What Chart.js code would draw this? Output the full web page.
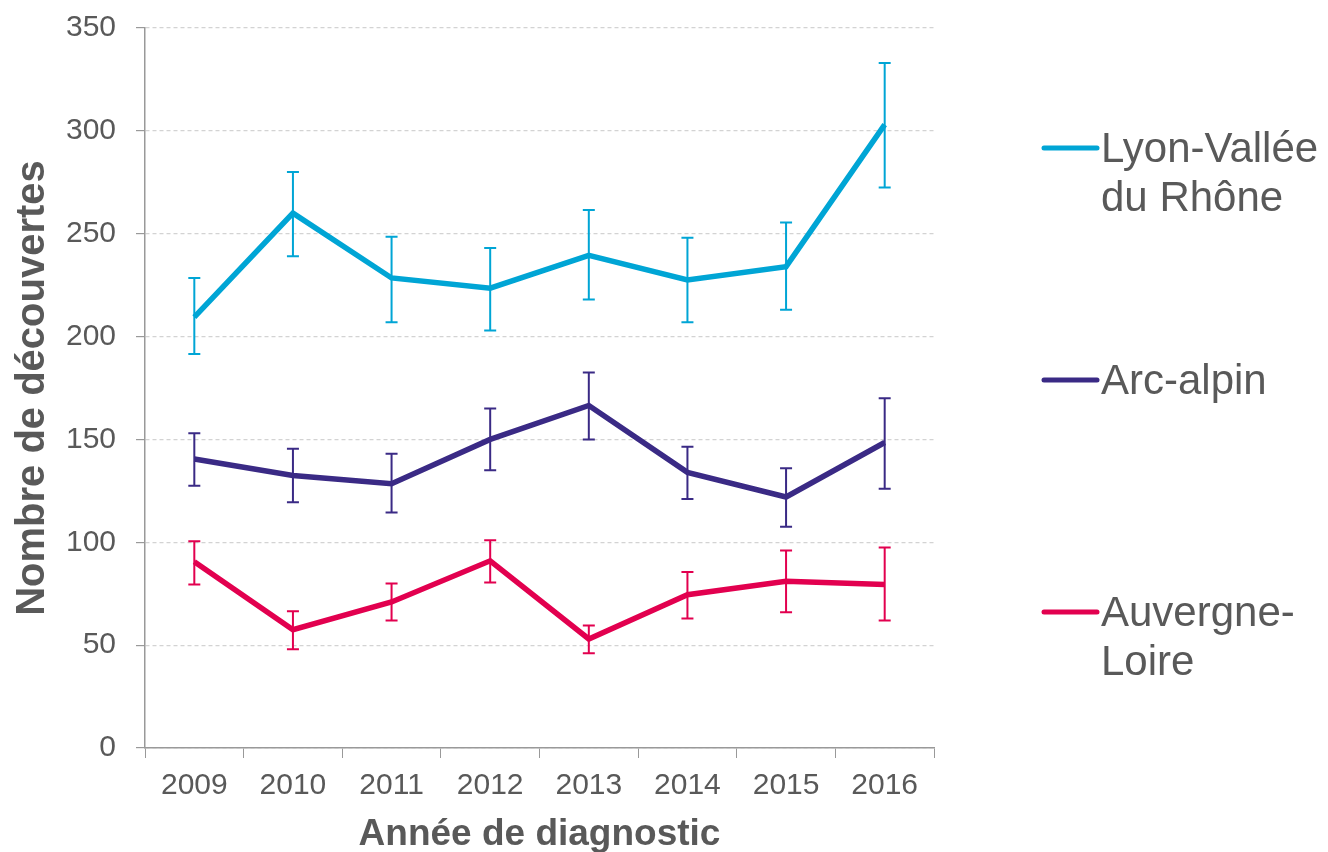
<!DOCTYPE html>
<html>
<head>
<meta charset="utf-8">
<script src="https://cdn.jsdelivr.net/npm/chart.js@4"></script>
<style>
  html, body { margin: 0; padding: 0; background: #fff; }
  #wrap { width: 1328px; height: 852px; }
</style>
</head>
<body>
<div id="wrap"><canvas id="chart"></canvas></div>
<script>
const years = ['2009', '2010', '2011', '2012', '2013', '2014', '2015', '2016'];

const lyonValues = [209.5, 260, 228.5, 223.5, 239.5, 227.5, 234, 303];
const lyonLow    = [191.5, 239, 207, 203, 218, 207, 213, 272.5];
const lyonHigh   = [228.5, 280, 248.5, 243, 261.5, 248, 255.5, 333];

const arcValues = [140.5, 132.5, 128.5, 150, 166.5, 134, 122, 148.5];
const arcLow    = [127.5, 119.5, 114.5, 135, 150, 121, 107.5, 126];
const arcHigh   = [153, 145.5, 143, 165, 182.5, 146.5, 136, 170];

const auvValues = [90.5, 57.5, 71, 91, 53, 74.5, 81, 79.5];
const auvLow    = [79.5, 48, 62, 80.5, 46, 63, 66, 62];
const auvHigh   = [100.5, 66.5, 80, 101, 59.5, 85.5, 96, 97.5];

const legendLabels = [['Lyon-Vallée', 'du Rhône'], ['Arc-alpin'], ['Auvergne-', 'Loire']];

const textGrey = '#595959';
const font = '"Liberation Sans", Arial, sans-serif';

// draws the vertical error bars with caps from the low/high arrays
const errorBars = {
    id: 'errorBars',
    afterDatasetsDraw(chart) {
        const ctx = chart.ctx;
        const y = chart.scales.y;
        chart.data.datasets.forEach((ds, i) => {
            const meta = chart.getDatasetMeta(i);
            ctx.save();
            ctx.strokeStyle = ds.borderColor;
            ctx.lineWidth = 2;
            meta.data.forEach((pt, j) => {
                const top = y.getPixelForValue(ds.errHigh[j]);
                const bot = y.getPixelForValue(ds.errLow[j]);
                ctx.beginPath();
                ctx.moveTo(pt.x, top);
                ctx.lineTo(pt.x, bot);
                ctx.moveTo(pt.x - 6, top);
                ctx.lineTo(pt.x + 6, top);
                ctx.moveTo(pt.x - 6, bot);
                ctx.lineTo(pt.x + 6, bot);
                ctx.stroke();
            });
            ctx.restore();
        });
    }
};

// legend on the right with wrapped labels
const sideLegend = {
    id: 'sideLegend',
    afterDraw(chart) {
        const ctx = chart.ctx;
        const rows = [148, 380, 612];
        ctx.save();
        ctx.font = '42px ' + font;
        ctx.textBaseline = 'middle';
        ctx.fillStyle = textGrey;
        chart.data.datasets.forEach((ds, i) => {
            const yy = rows[i];
            ctx.strokeStyle = ds.borderColor;
            ctx.lineWidth = 5;
            ctx.lineCap = 'round';
            ctx.beginPath();
            ctx.moveTo(1044, yy);
            ctx.lineTo(1097, yy);
            ctx.stroke();
            legendLabels[i].forEach((line, k) => {
                ctx.fillText(line, 1101, yy + 2 + k * 49);
            });
        });
        ctx.restore();
    }
};

new Chart(document.getElementById('chart'), {
    type: 'line',
    data: {
        labels: years,
        datasets: [
            { label: 'Lyon-Vallée du Rhône', data: lyonValues, errLow: lyonLow, errHigh: lyonHigh, borderColor: '#00a5d5' },
            { label: 'Arc-alpin', data: arcValues, errLow: arcLow, errHigh: arcHigh, borderColor: '#3a2a85' },
            { label: 'Auvergne-Loire', data: auvValues, errLow: auvLow, errHigh: auvHigh, borderColor: '#e2004f' }
        ].map(d => Object.assign(d, { borderWidth: 5.5, pointRadius: 0, tension: 0, fill: false }))
    },
    options: {
        responsive: true,
        maintainAspectRatio: false,
        animation: false,
        layout: { padding: { top: 28, right: 394, bottom: 0, left: 0 } },
        plugins: { legend: { display: false }, tooltip: { enabled: false } },
        scales: {
            x: {
                offset: true,
                grid: { offset: true, drawOnChartArea: false, tickLength: 10, color: '#999' },
                border: { color: '#999', width: 1.5 },
                ticks: { color: textGrey, font: { family: font, size: 30 }, padding: 10 },
                title: { display: true, text: 'Année de diagnostic', color: textGrey, font: { family: font, size: 37, weight: 'bold' }, padding: { top: 0, bottom: -5 } },
                afterFit(s) { s.height = 104; }
            },
            y: {
                min: 0, max: 350,
                ticks: { stepSize: 50, color: textGrey, font: { family: font, size: 30 }, padding: 20 },
                grid: { color: '#d3d3d3', lineWidth: 1.2, tickLength: 9, tickColor: '#999', tickBorderDash: [] },
                border: { color: '#999', width: 1.5, dash: [4, 3] },
                title: { display: true, text: 'Nombre de découvertes', color: textGrey, font: { family: font, size: 40, weight: 'bold' }, padding: { top: 9, bottom: 0 } },
                afterFit(s) {
                    s.width = 145;
                    // tick padding otherwise pushes the plot top down
                    s.paddingTop = 18;
                    s.paddingBottom = 18;
                }
            }
        }
    },
    plugins: [errorBars, sideLegend]
});
</script>
</body>
</html>
